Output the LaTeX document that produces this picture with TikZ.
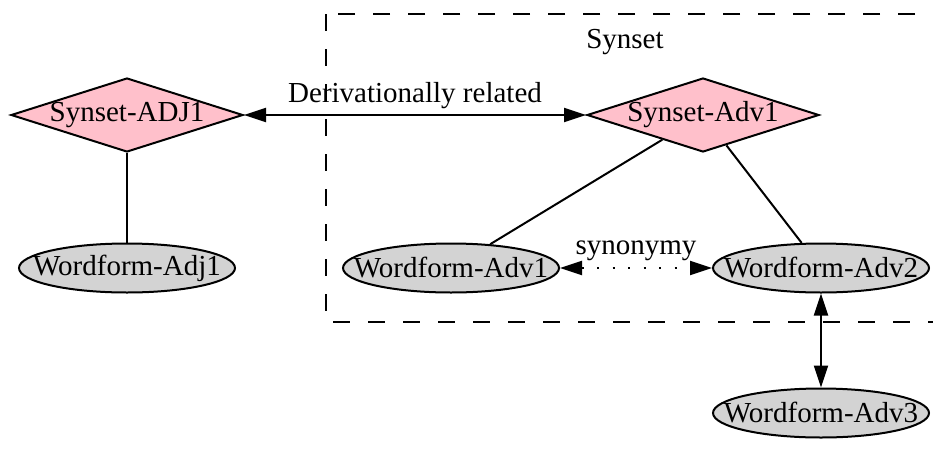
\documentclass[tikz,border=0pt]{standalone}
\usepackage{fontspec}
\setmainfont{Liberation Serif}
\usetikzlibrary{shapes.geometric,arrows.meta}

\definecolor{synsetfill}{HTML}{FFC0CB}
\definecolor{wordfill}{HTML}{D3D3D3}

\tikzset{
  base/.style={font=\fontsize{29}{31}\selectfont},
  synsetnode/.style={base, shape=diamond, draw, line width=2pt, fill=synsetfill,
    aspect=3.1, inner sep=-3pt, minimum width=232pt, minimum height=74pt},
  wordnode/.style={base, shape=ellipse, draw, line width=2pt, fill=wordfill,
    inner xsep=-24pt, inner ysep=0pt, minimum width=216pt, minimum height=49pt},
  edge/.style={line width=2pt},
  tip/.style={{Triangle[length=22pt,width=14pt]}-{Triangle[length=22pt,width=14pt]}},
  dotline/.style={line width=2pt, dash pattern=on 2pt off 13.5pt},
  cluster/.style={line width=2pt, dash pattern=on 17pt off 18pt},
  lbl/.style={base}
}

\begin{document}
\begin{tikzpicture}[x=1pt,y=-1pt]
  \useasboundingbox (0,0) rectangle (933,455);

  % cluster frame
  \draw[cluster] (326,14) rectangle (960,322);
  \node[lbl] (clusterlabel) at (625,42) {Synset};

  % nodes
  \node[synsetnode] (adj1) at (127,115) {Synset-ADJ1};
  \node[synsetnode] (adv1) at (703,115) {Synset-Adv1};
  \node[wordnode] (wadj1) at (127,268) {Wordform-Adj1};
  \node[wordnode] (wadv1) at (451,268) {Wordform-Adv1};
  \node[wordnode] (wadv2) at (821,268) {Wordform-Adv2};
  \node[wordnode] (wadv3) at (821,413) {Wordform-Adv3};

  % connectors
  \draw[edge] (adj1) -- (wadj1);
  \draw[edge] (adv1) -- (wadv1);
  \draw[edge] (adv1) -- (wadv2);
  \draw[edge,tip] (adj1) -- node[lbl, above=2pt] {Derivationally related} (adv1);
  \draw[dotline,tip] (wadv1) -- node[lbl, above=3pt] {synonymy} (wadv2);
  \draw[edge,tip] (wadv2) -- (wadv3);
\end{tikzpicture}
\end{document}
